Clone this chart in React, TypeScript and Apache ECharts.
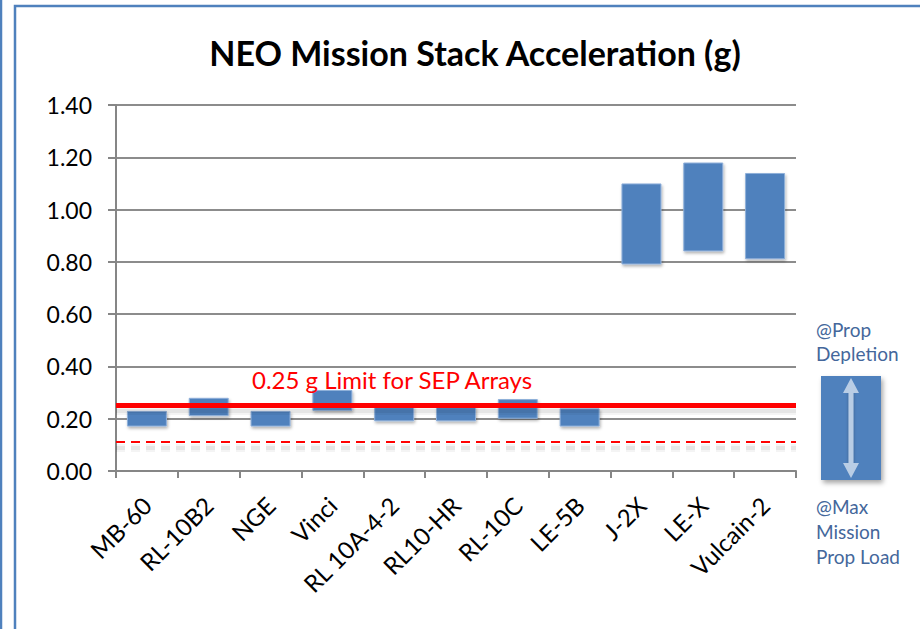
import React, { useEffect, useRef } from "react";
import * as echarts from "echarts";

const categories = ["MB-60", "RL-10B2", "NGE", "Vinci", "RL 10A-4-2", "RL10-HR", "RL-10C", "LE-5B", "J-2X", "LE-X", "Vulcain-2"];
const maxLoadAccel = [0.17, 0.21, 0.17, 0.23, 0.19, 0.19, 0.2, 0.17, 0.79, 0.84, 0.81];
const depletionAccel = [0.23, 0.28, 0.23, 0.31, 0.25, 0.25, 0.275, 0.24, 1.1, 1.18, 1.14];
const yTicks = { min: 0, max: 1.4, interval: 0.2 };
const sepLimit = 0.25;
const dashedLimit = 0.11;
const limitLabel = "0.25 g Limit for SEP Arrays";
const titleText = "NEO Mission Stack Acceleration (g)";
const legendTop = ["@Prop", "Depletion"];
const legendBottom = ["@Max", "Mission", "Prop Load"];

const FONT = "Lato, 'Open Sans', sans-serif";

export default function App() {
  const ref = useRef<HTMLDivElement>(null);
  useEffect(() => {
    if (!ref.current) return;
    const chart = echarts.init(ref.current, null, { renderer: "svg" });
    const spans = depletionAccel.map((v, i) => +(v - maxLoadAccel[i]).toFixed(3));
    const legendColor = "#44679B";
    // a fake soft shadow below a horizontal line (SVG filters drop zero-height lines)
    const pxToVal = (yTicks.max - yTicks.min) / 366;
    const shadowLines = (v: number, dashed: boolean) => [
      { yAxis: v - 4 * pxToVal, lineStyle: { color: "rgba(0,0,0,0.045)", width: 8, type: dashed ? [9, 6] : "solid" } },
      { yAxis: v - 4 * pxToVal, lineStyle: { color: "rgba(0,0,0,0.06)", width: 4, type: dashed ? [9, 6] : "solid" } },
    ];
    chart.setOption({
      animation: false,
      backgroundColor: "#ffffff",
      title: {
        text: titleText,
        left: 470,
        top: 30,
        textAlign: "center",
        textStyle: { fontFamily: FONT, fontSize: 34, fontWeight: "bold", color: "#000" },
      },
      grid: { left: 116, right: 124, top: 105, bottom: 158, containLabel: false },
      xAxis: {
        type: "category",
        data: categories,
        axisLine: { lineStyle: { color: "#868686", width: 2 } },
        axisTick: { show: true, length: 7, lineStyle: { color: "#868686", width: 2 } },
        axisLabel: { rotate: 45, fontFamily: FONT, fontSize: 24, color: "#000", margin: 30, interval: 0 },
      },
      yAxis: {
        type: "value",
        min: yTicks.min,
        max: yTicks.max,
        interval: yTicks.interval,
        axisLine: { show: true, lineStyle: { color: "#868686", width: 2 } },
        axisTick: { show: true, length: 8, lineStyle: { color: "#868686", width: 2 } },
        axisLabel: {
          fontFamily: FONT,
          fontSize: 23,
          color: "#000",
          margin: 24,
          formatter: (v: number) => v.toFixed(2),
        },
        splitLine: { lineStyle: { color: "#8C8C8C", width: 2 } },
      },
      series: [
        {
          type: "bar",
          stack: "a",
          data: maxLoadAccel,
          barWidth: 40,
          itemStyle: { color: "transparent" },
          silent: true,
          z: 2,
        },
        {
          type: "bar",
          stack: "a",
          data: spans,
          barWidth: 40,
          itemStyle: {
            color: "#4F81BD",
            borderColor: "#8FB0DA",
            borderWidth: 1,
            shadowColor: "rgba(0,0,0,0.3)",
            shadowBlur: 3,
            shadowOffsetX: 1,
            shadowOffsetY: 2,
          },
          z: 3,
        },
        {
          type: "line",
          data: categories.map(() => null),
          symbol: "none",
          silent: true,
          z: 5,
          markLine: {
            silent: true,
            symbol: "none",
            animation: false,
            label: { show: false },
            data: [
              ...shadowLines(sepLimit, false),
              ...shadowLines(dashedLimit, true),
              {
                yAxis: sepLimit,
                lineStyle: { color: "#FF0000", width: 5, type: "solid", opacity: 1 },
              },
              {
                yAxis: dashedLimit,
                lineStyle: { color: "#FF0000", width: 2, type: [9, 6], opacity: 1 },
              },
            ],
          },
        },
      ],
      graphic: [
        { type: "line", shape: { x1: 1, y1: 0, x2: 1, y2: 629 }, style: { stroke: "#4F81BD", lineWidth: 2.5 } },
        { type: "rect", shape: { x: 15, y: 6, width: 1000, height: 700 }, style: { fill: "none", stroke: "#4F81BD", lineWidth: 2.5 } },
        {
          type: "text",
          x: 252,
          y: 379,
          style: { text: limitLabel, fill: "#FF0000", font: `24px ${FONT}`, textVerticalAlign: "middle" },
          z: 10,
        },
        {
          type: "text",
          x: 816,
          y: 317,
          style: { text: legendTop.join("\n"), fill: legendColor, font: `19px ${FONT}`, lineHeight: 24 },
        },
        {
          type: "text",
          x: 816,
          y: 494,
          style: { text: legendBottom.join("\n"), fill: legendColor, font: `19px ${FONT}`, lineHeight: 25 },
        },
        {
          type: "rect",
          shape: { x: 821, y: 376, width: 60, height: 104 },
          style: { fill: "#4F81BD", shadowColor: "rgba(0,0,0,0.35)", shadowBlur: 5, shadowOffsetX: 2, shadowOffsetY: 3 },
        },
        {
          type: "rect",
          shape: { x: 848.5, y: 390, width: 5, height: 76 },
          style: { fill: "#B9CDE5", shadowColor: "rgba(0,0,0,0.3)", shadowBlur: 3, shadowOffsetY: 2 },
        },
        {
          type: "polygon",
          shape: { points: [[851, 378], [843, 393], [859, 393]] },
          style: { fill: "#B9CDE5" },
        },
        {
          type: "polygon",
          shape: { points: [[851, 478], [843, 463], [859, 463]] },
          style: { fill: "#B9CDE5" },
        },
      ],
    });
    return () => chart.dispose();
  }, []);
  return (
    <div
      ref={ref}
      style={{ position: "fixed", left: 0, top: 0, width: 920, height: 629 }}
    />
  );
}
